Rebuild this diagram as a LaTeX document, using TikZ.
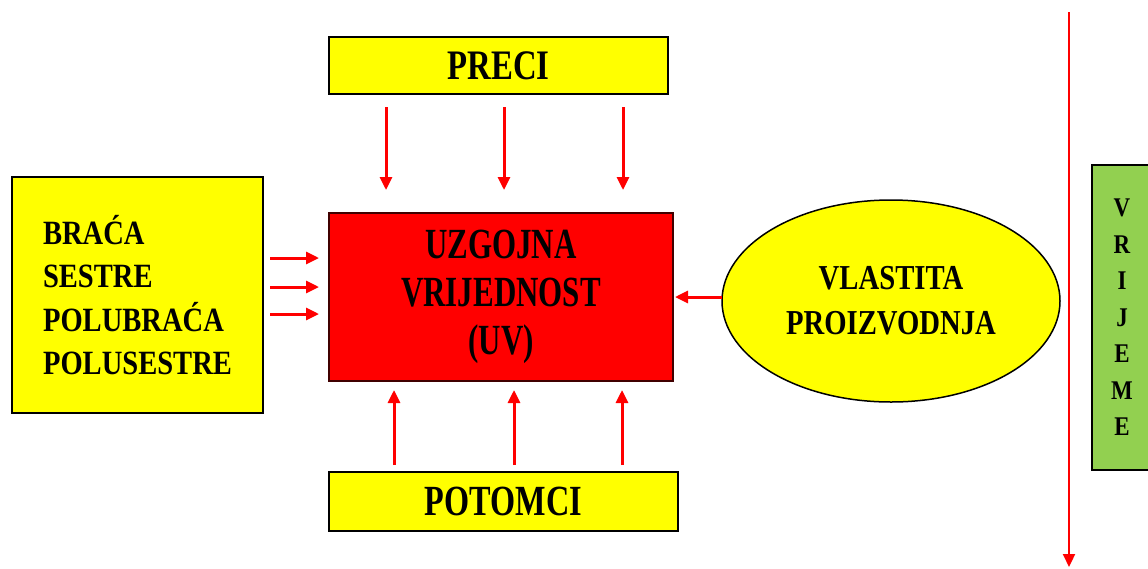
\documentclass[tikz,border=0pt]{standalone}
\usepackage{fontspec}
\setmainfont{Liberation Serif}
\newfontfamily\fPreci[FakeStretch=0.78]{Liberation Serif}
\newfontfamily\fRed[FakeStretch=0.72]{Liberation Serif}
\newfontfamily\fPot[FakeStretch=0.75]{Liberation Serif}
\newfontfamily\fEll[FakeStretch=0.82]{Liberation Serif}
\newfontfamily\fLeft[FakeStretch=0.84]{Liberation Serif}
\newfontfamily\fTime[FakeStretch=0.85]{Liberation Serif}
\usetikzlibrary{arrows.meta,shapes.geometric}
\definecolor{ylw}{HTML}{FFFF00}
\definecolor{rd}{HTML}{FF0000}
\definecolor{grn}{HTML}{92D050}
\definecolor{dred}{HTML}{400000}
\tikzset{
  ybox/.style={draw=black, line width=1.5pt, fill=ylw, inner sep=0pt, outer sep=0pt, rectangle},
  arr/.style={draw=rd, line width=3pt, -{Triangle[length=13pt,width=12pt]}},
}
\begin{document}
\begin{tikzpicture}[x=1pt,y=-1pt]
\clip (0,0) rectangle (1148,568);
\fill[white] (0,0) rectangle (1148,568);

\node[ybox, minimum width=339pt, minimum height=57pt,
  font=\fPreci\bfseries\fontsize{42}{48}\selectfont] (preci) at (498.5,65.5) {PRECI};

\node[ybox, minimum width=251pt, minimum height=236pt, align=left,
  font=\fLeft\bfseries\fontsize{34}{43.3}\selectfont] (left) at (137.5,295) {BRAĆA\\SESTRE\\POLUBRAĆA\\POLUSESTRE};

\node[draw=dred, line width=1.5pt, fill=rd, inner sep=0pt, outer sep=0pt,
  minimum width=344pt, minimum height=168pt, align=center,
  font=\fRed\bfseries\fontsize{43}{48}\selectfont] (uv) at (501,297) {UZGOJNA\\VRIJEDNOST\\(UV)};

\node[ellipse, draw=black, line width=1.5pt, fill=ylw, inner sep=0pt, outer sep=0pt,
  minimum width=338pt, minimum height=202pt, align=center,
  font=\fEll\bfseries\fontsize{35}{45}\selectfont] (own) at (891,301) {VLASTITA\\PROIZVODNJA};

\node[ybox, minimum width=349pt, minimum height=59pt,
  font=\fPot\bfseries\fontsize{43}{48}\selectfont] (pot) at (503.5,501.5) {POTOMCI};

\node[draw=black, line width=1.5pt, fill=grn, inner sep=0pt, outer sep=0pt,
  minimum width=60pt, minimum height=305pt, align=center,
  font=\fTime\bfseries\fontsize{27}{36.5}\selectfont] (time) at (1122,317.5) {V\\R\\I\\J\\E\\M\\E};

% arrow end points
\coordinate (t1s) at (386,107); \coordinate (t1e) at (386,190);
\coordinate (t2s) at (504,107); \coordinate (t2e) at (504,190);
\coordinate (t3s) at (623,107); \coordinate (t3e) at (623,190);
\coordinate (b1s) at (394,465); \coordinate (b1e) at (394,390);
\coordinate (b2s) at (514,465); \coordinate (b2e) at (514,390);
\coordinate (b3s) at (622,465); \coordinate (b3e) at (622,390);
\coordinate (l1s) at (270,258); \coordinate (l1e) at (319,258);
\coordinate (l2s) at (270,287); \coordinate (l2e) at (319,287);
\coordinate (l3s) at (270,314); \coordinate (l3e) at (319,314);
\coordinate (oe) at (675,297);
\coordinate (ts) at (1069,12); \coordinate (te) at (1069,567);

\draw[arr] (t1s) -- (t1e);
\draw[arr] (t2s) -- (t2e);
\draw[arr] (t3s) -- (t3e);
\draw[arr] (b1s) -- (b1e);
\draw[arr] (b2s) -- (b2e);
\draw[arr] (b3s) -- (b3e);
\draw[arr] (l1s) -- (l1e);
\draw[arr] (l2s) -- (l2e);
\draw[arr] (l3s) -- (l3e);
\draw[arr] (own.west |- oe) -- (oe);
\draw[arr, line width=2.2pt] (ts) -- (te);
\end{tikzpicture}
\end{document}
